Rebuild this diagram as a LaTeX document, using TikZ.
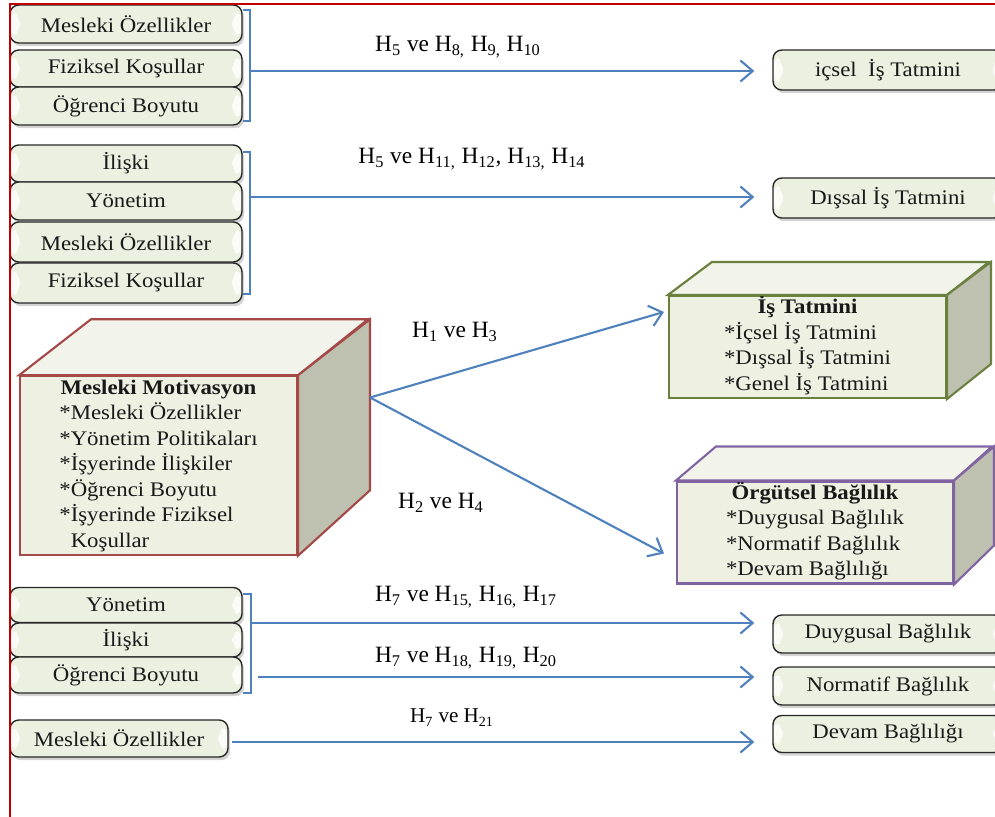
\documentclass[tikz,border=0pt]{standalone}
\usepackage{fontspec}
\setmainfont{Liberation Serif}
\newfontfamily\boxfont[FakeStretch=1.1]{Liberation Serif}
\usetikzlibrary{arrows.meta,shadows,calc}

\definecolor{linkblue}{RGB}{79,129,189}
\definecolor{framered}{RGB}{192,0,0}
\definecolor{boxfill}{RGB}{236,240,224}
\definecolor{cubefront}{RGB}{238,240,226}
\definecolor{cubetop}{RGB}{242,243,234}
\definecolor{cubeside}{RGB}{190,192,176}
\definecolor{motivred}{RGB}{165,72,72}
\definecolor{tatmingreen}{RGB}{106,128,62}
\definecolor{bagpurple}{RGB}{128,100,162}

\tikzset{
  factor/.style={draw=black!85, line width=0.8pt, rounded corners=5pt,
    fill=boxfill, inner sep=0pt, minimum width=4.64cm, text=black!90,
    font=\boxfont\fontsize{11.8}{14}\selectfont,
    drop shadow={shadow xshift=1.2pt, shadow yshift=-1.8pt, opacity=.35},
    path picture={
      \fill[white, opacity=.8] ($(path picture bounding box.north west)+(1,5)$) -- ++(9,7)
        -- ($(path picture bounding box.south west)+(10,-12)$) -- ++(-9,7) -- cycle;
      \fill[white, opacity=.8] ($(path picture bounding box.north east)+(-1,5)$) -- ++(-9,7)
        -- ($(path picture bounding box.south east)+(-10,-12)$) -- ++(9,7) -- cycle;
    }},
  outcome/.style={factor, minimum width=4.6cm},
  face/.style={line width=1.2pt, fill=cubefront, inner sep=0pt, text=black!90,
    font=\boxfont\fontsize{11.8}{14.5}\selectfont},
  brace/.style={draw=linkblue, line width=1pt},
  link/.style={draw=linkblue, line width=1.2pt, -{Straight Barb[length=7pt,width=12pt]},
    shorten >=0.36cm},
  hyp/.style={anchor=base, font=\fontsize{13.3}{15}\selectfont}
}
\newcommand{\Hs}[1]{H\textsubscript{#1}}

\begin{document}
\begin{tikzpicture}[x=0.02cm, y=-0.02cm]
  \clip (0,0) rectangle (995,817);

  % Group 1: icsel is tatmini
  \node[factor, minimum height=0.76cm] (mes1) at (126,24) {Mesleki Özellikler};
  \node[factor, minimum height=0.74cm] (fiz1) at (126,68.5) {Fiziksel Koşullar};
  \node[factor, minimum height=0.76cm] (ogr1) at (126,106) {Öğrenci Boyutu};
  \draw[brace] (243,10) -- (250,10) -- (250,121) -- (243,121);
  \coordinate (br1) at (250,71);

  % Group 2: dissal is tatmini
  \node[factor, minimum height=0.74cm] (ili2) at (126,163.5) {İlişki};
  \node[factor, minimum height=0.76cm] (yon2) at (126,201) {Yönetim};
  \node[factor, minimum height=0.80cm] (mes2) at (126,242) {Mesleki Özellikler};
  \node[factor, minimum height=0.80cm] (fiz2) at (126,283) {Fiziksel Koşullar};
  \draw[brace] (243,152) -- (250,152) -- (250,294) -- (243,294);
  \coordinate (br2) at (250,197);

  % Right outcome boxes
  \node[outcome, minimum height=0.80cm] (icsel) at (888,70) {içsel~ İş Tatmini};
  \node[outcome, minimum height=0.80cm] (dissal) at (888,198) {Dışsal İş Tatmini};

  \draw[link] (br1) -- (br1 -| icsel.west);
  \draw[link] (br2) -- (br2 -| dissal.west);
  \node[hyp] (h1) at (458,52) {\Hs{5} ve \Hs{8,} \Hs{9,} \Hs{10}};
  \node[hyp] (h2) at (472,164) {\Hs{5} ve \Hs{11,} \Hs{12}, \Hs{13,} \Hs{14}};

  % Cube: Mesleki Motivasyon
  \node[face, draw=motivred, minimum width=5.54cm, minimum height=3.42cm] (motiv) at (158.5,465.5)
    {\begin{tabular}{@{}l@{}}
      \multicolumn{1}{@{}c@{}}{\textbf{Mesleki Motivasyon}}\\
      {*}Mesleki Özellikler\\
      {*}Yönetim Politikaları\\
      {*}İşyerinde İlişkiler\\
      {*}Öğrenci Boyutu\\
      {*}İşyerinde Fiziksel\\
      \hphantom{*}Koşullar
    \end{tabular}};
  \draw[motivred, line width=1.2pt, fill=cubetop] (motiv.north west) -- ++(72,-56) -- ++(277,0)
    -- (motiv.north east) -- cycle;
  \draw[motivred, line width=1.2pt, fill=cubeside] (motiv.north east) -- ++(72,-56) -- ++(0,171)
    -- (motiv.south east) -- cycle;

  % Cube: Is Tatmini
  \node[face, draw=tatmingreen, minimum width=5.54cm, minimum height=2.04cm] (tatmin) at (807.5,347)
    {\begin{tabular}{@{}l@{}}
      \multicolumn{1}{@{}c@{}}{\textbf{İş Tatmini}}\\
      {*}İçsel İş Tatmini\\
      {*}Dışsal İş Tatmini\\
      {*}Genel İş Tatmini
    \end{tabular}};
  \draw[tatmingreen, line width=1.2pt, fill=cubetop] (tatmin.north west) -- ++(44,-33) -- ++(277,0)
    -- (tatmin.north east) -- cycle;
  \draw[tatmingreen, line width=1.2pt, fill=cubeside] (tatmin.north east) -- ++(44,-33) -- ++(0,102)
    -- (tatmin.south east) -- cycle;

  % Cube: Orgutsel Baglilik
  \node[face, draw=bagpurple, minimum width=5.52cm, minimum height=1.98cm] (orgut) at (815,532.5)
    {\begin{tabular}{@{}l@{}}
      \multicolumn{1}{@{}c@{}}{\textbf{Örgütsel Bağlılık}}\\
      {*}Duygusal Bağlılık\\
      {*}Normatif Bağlılık\\
      {*}Devam Bağlılığı
    \end{tabular}};
  \draw[bagpurple, line width=1.2pt, fill=cubetop] (orgut.north west) -- ++(40,-34) -- ++(276,0)
    -- (orgut.north east) -- cycle;
  \draw[bagpurple, line width=1.2pt, fill=cubeside] (orgut.north east) -- ++(40,-34) -- ++(0,99)
    -- (orgut.south east) -- cycle;

  \coordinate (motivout) at ([shift={(72,-68)}]motiv.east);
  \draw[link, shorten >=0pt] (motivout) -- ([shift={(-4,17)}]tatmin.north west);
  \draw[link, shorten >=0pt] (motivout) -- ([shift={(-12,-31)}]orgut.south west);
  \node[hyp] (h3) at (455,338) {\Hs{1} ve \Hs{3}};
  \node[hyp] (h4) at (441,509) {\Hs{2} ve \Hs{4}};

  % Group 3: duygusal / normatif baglilik
  \node[factor, minimum height=0.70cm] (yon3) at (126,605) {Yönetim};
  \node[factor, minimum height=0.68cm] (ili3) at (126,640) {İlişki};
  \node[factor, minimum height=0.72cm] (ogr3) at (126,675) {Öğrenci Boyutu};
  \draw[brace] (243,594) -- (251,594) -- (251,693) -- (243,693);
  \coordinate (br3) at (251,623);
  \coordinate (br3b) at (258,677);

  % Group 4: devam baglilik
  \node[factor, minimum width=4.36cm, minimum height=0.74cm] (mes4) at (119,738.5) {Mesleki Özellikler};
  \coordinate (br4) at (232,742);

  \node[outcome, minimum height=0.76cm] (duygu) at (888,634) {Duygusal Bağlılık};
  \node[outcome, minimum height=0.76cm] (norm) at (888,686) {Normatif Bağlılık};
  \node[outcome, minimum height=0.74cm] (devam) at (888,734) {Devam Bağlılığı};

  \draw[link] (br3) -- (br3 -| duygu.west);
  \draw[link] (br3b) -- (br3b -| norm.west);
  \draw[link] (br4) -- (br4 -| devam.west);
  \node[hyp] (h5) at (466,602) {\Hs{7} ve \Hs{15,} \Hs{16,} \Hs{17}};
  \node[hyp] (h6) at (466,663) {\Hs{7} ve \Hs{18,} \Hs{19,} \Hs{20}};
  \node[hyp, font=\fontsize{12}{14}\selectfont] (h7) at (452,723) {\Hs{7} ve \Hs{21}};

  % Frame
  \draw[framered, line width=1.3pt] (10,817) -- (10,4) -- (995,4);
\end{tikzpicture}
\end{document}
